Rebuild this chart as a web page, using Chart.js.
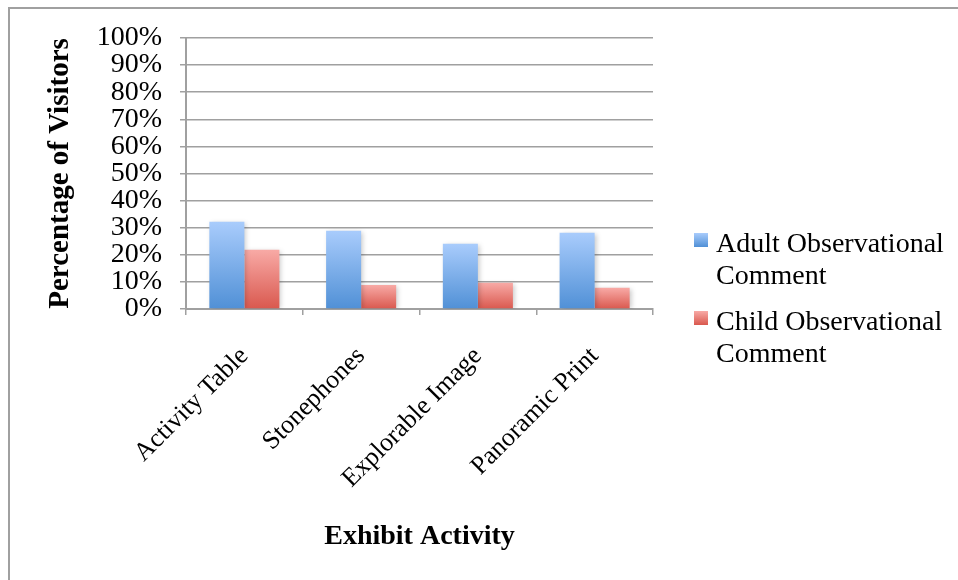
<!DOCTYPE html>
<html>
<head>
<meta charset="utf-8">
<script src="https://cdn.jsdelivr.net/npm/chart.js@4"></script>
<style>
  html, body { margin: 0; padding: 0; background: #fff; }
  #frame { position: absolute; left: 8px; top: 7px; width: 960px; height: 580px;
           border-left: 2px solid #a0a0a0; border-top: 2px solid #a0a0a0; }
  #wrap { position: absolute; left: 0; top: 0; width: 958px; height: 580px; }
</style>
</head>
<body>
<div id="frame"></div>
<div id="wrap"><canvas id="exhibitChart"></canvas></div>
<script>
// Data
var categories = ['Activity Table', 'Stonephones', 'Explorable Image', 'Panoramic Print'];
var adultValues = [32.2, 28.9, 24.1, 28.1];
var childValues = [21.9, 8.9, 9.7, 7.8];
var seriesNames = [['Adult Observational', 'Comment'], ['Child Observational', 'Comment']];

var serif = "'Liberation Serif', 'Times New Roman', serif";
var gridGray = '#a0a0a0';
var blueTop = '#a9ccfc', blueBottom = '#5090d6';
var redTop = '#f8aaa6', redBottom = '#d9584e';

// vertical gradient running over each bar
function barGradient(topColor, bottomColor) {
    return function (ctx) {
        var chart = ctx.chart;
        if (!chart.chartArea || ctx.raw === undefined) return bottomColor;
        var y = chart.scales.y;
        var top = y.getPixelForValue(ctx.raw);
        var base = y.getPixelForValue(0);
        if (base - top < 1) return bottomColor;
        var g = chart.ctx.createLinearGradient(0, top, 0, base);
        g.addColorStop(0, topColor);
        g.addColorStop(1, bottomColor);
        return g;
    };
}

var barShadow = {
    id: 'barShadow',
    beforeDatasetsDraw: function (chart) {
        var c = chart.ctx;
        c.save();
        c.shadowColor = 'rgba(0,0,0,0.22)';
        c.shadowBlur = 5;
        c.shadowOffsetX = 2;
        c.shadowOffsetY = 1;
    },
    afterDatasetsDraw: function (chart) {
        chart.ctx.restore();
    }
};

// legend with two-line labels, drawn to the right of the plot
var sideLegend = {
    id: 'sideLegend',
    afterDraw: function (chart) {
        var c = chart.ctx;
        var x = chart.chartArea.right + 41;
        var baseline = chart.height / 2 - 38;
        var colors = [[blueTop, blueBottom], [redTop, redBottom]];
        c.save();
        c.font = '28px ' + serif;
        c.fillStyle = '#000';
        c.textBaseline = 'alphabetic';
        chart.data.datasets.forEach(function (ds, i) {
            var boxTop = baseline - 19;
            var g = c.createLinearGradient(0, boxTop, 0, boxTop + 14);
            g.addColorStop(0, colors[i][0]);
            g.addColorStop(1, colors[i][1]);
            c.fillStyle = g;
            c.fillRect(x, boxTop, 14, 14);
            c.fillStyle = '#000';
            ds.label.forEach(function (line, j) {
                c.fillText(line, x + 22, baseline + j * 32);
            });
            baseline += 78;
        });
        c.restore();
    }
};

function createExhibitChart() {
    var ctx = document.getElementById('exhibitChart').getContext('2d');
    new Chart(ctx, {
        type: 'bar',
        data: {
            labels: categories,
            datasets: [{
                label: seriesNames[0],
                data: adultValues,
                backgroundColor: barGradient(blueTop, blueBottom)
            }, {
                label: seriesNames[1],
                data: childValues,
                backgroundColor: barGradient(redTop, redBottom)
            }]
        },
        options: {
            responsive: true,
            maintainAspectRatio: false,
            animation: false,
            categoryPercentage: 0.6,
            barPercentage: 1.0,
            layout: { padding: { left: 10, top: 38, right: 305, bottom: 26 } },
            plugins: {
                tooltip: { enabled: false },
                legend: { display: false }
            },
            scales: {
                x: {
                    afterFit: function (scale) { scale.height = 245; },
                    grid: { offset: true, drawOnChartArea: false, tickLength: 6, color: gridGray, lineWidth: 1.5 },
                    border: { color: gridGray, width: 2 },
                    ticks: {
                        color: '#000',
                        font: { family: serif, size: 26 },
                        minRotation: 45,
                        maxRotation: 45,
                        autoSkip: false,
                        padding: 26
                    },
                    title: {
                        display: true,
                        text: 'Exhibit Activity',
                        color: '#000',
                        font: { family: serif, size: 28, weight: 'bold' },
                        padding: 0
                    }
                },
                y: {
                    min: 0,
                    max: 100,
                    afterFit: function (scale) { scale.width = 176; },
                    grid: { color: gridGray, lineWidth: 1.5, tickLength: 6 },
                    border: { color: gridGray, width: 2 },
                    ticks: {
                        stepSize: 10,
                        autoSkip: false,
                        color: '#000',
                        font: { family: serif, size: 28 },
                        padding: 18,
                        callback: function (v) { return v + '%'; }
                    },
                    title: {
                        display: true,
                        text: 'Percentage of Visitors',
                        color: '#000',
                        font: { family: serif, size: 29, weight: 'bold' },
                        padding: { top: 33, bottom: 0 }
                    }
                }
            }
        },
        plugins: [barShadow, sideLegend]
    });
}

createExhibitChart();
</script>
</body>
</html>
